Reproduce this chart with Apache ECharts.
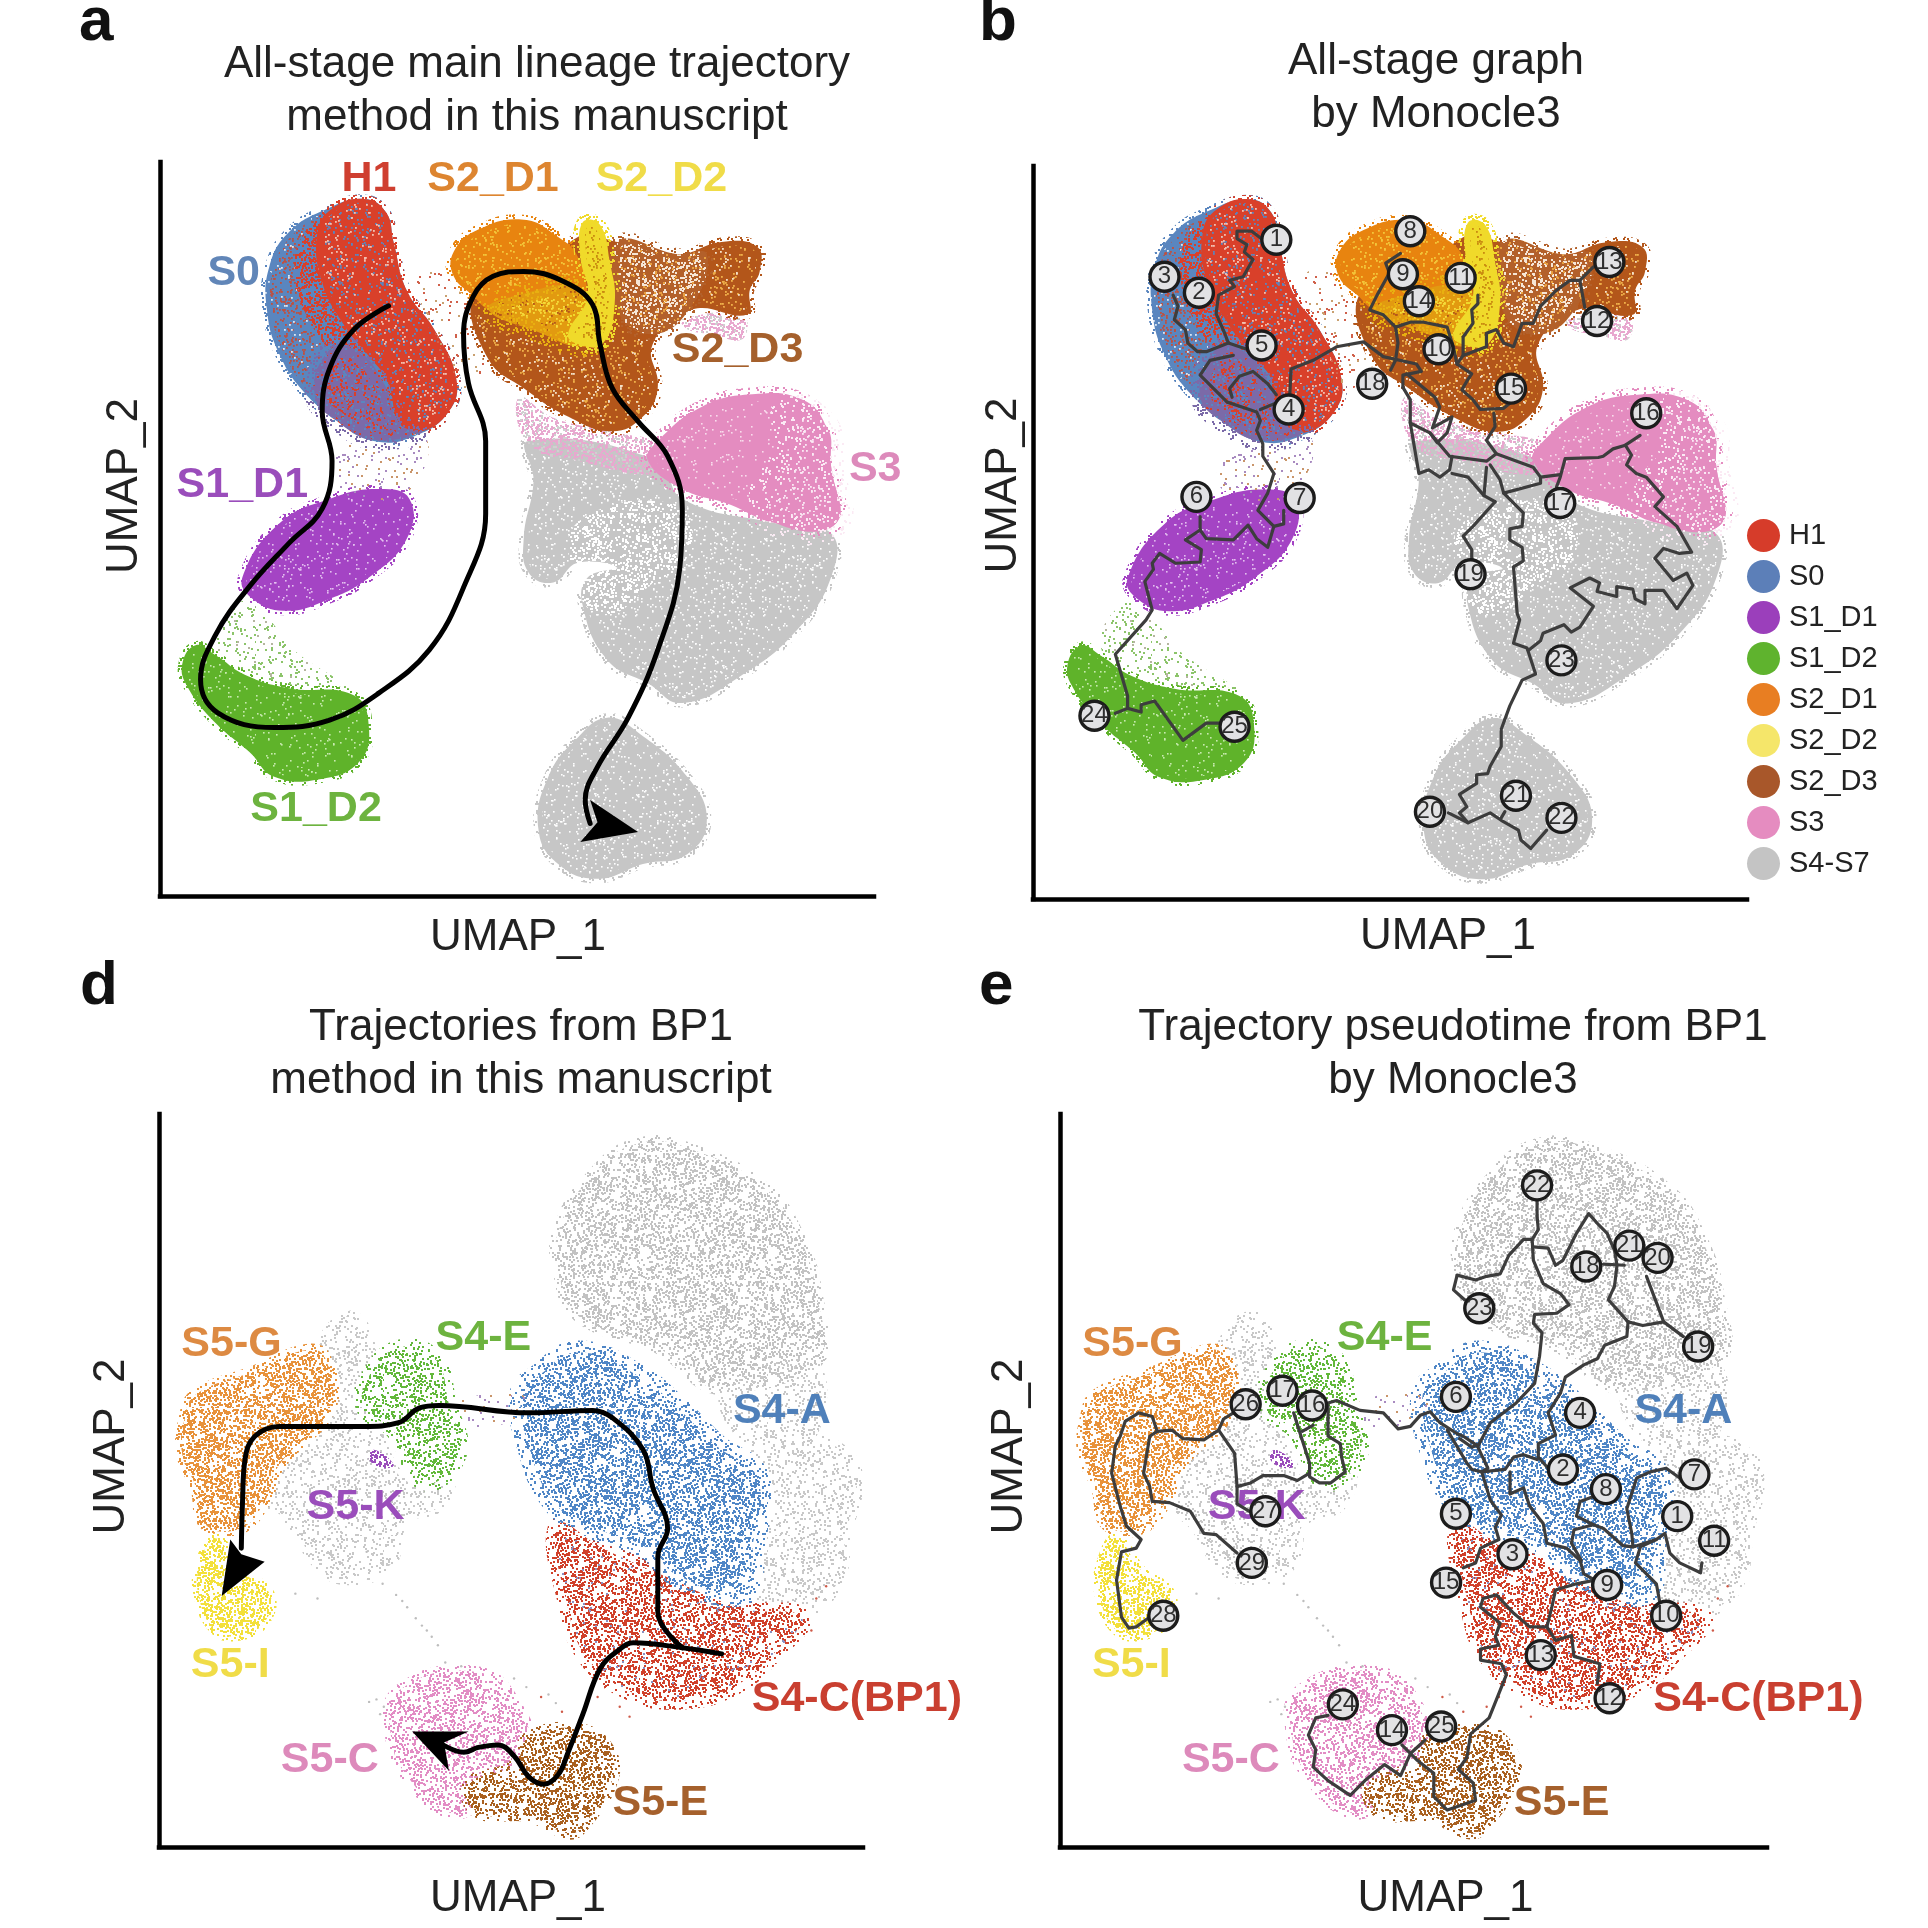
<!DOCTYPE html>
<html><head><meta charset="utf-8">
<script src="https://cdn.jsdelivr.net/npm/echarts@6/dist/echarts.min.js"></script>
<style>html,body{margin:0;background:#fff}#c{width:1928px;height:1928px}</style></head>
<body><div id="c"></div>
<script>
// ---- UMAP outlines (shared by panels a+b, d+e) ----
const grayLow=[[494,584],[519,596],[559,632],[575,667],[559,695],[523,703],[486,715],[454,703],[438,675],[446,632],[470,600]];
const grayMain=[[430,359],[535,375],[555,406],[632,426],[676,434],[676,470],[648,513],[604,549],[555,572],[527,556],[494,537],[474,493],[478,470],[502,462],[470,458],[450,474],[430,466],[426,438],[434,391]];
const grayPatch=[[478,432],[545,420],[550,448],[522,468],[492,490],[478,470]];
const pinkLeft=[[422,323],[450,340],[500,352],[535,362],[535,385],[470,375],[430,362]];
const pinkMain=[[535,359],[571,331],[612,321],[652,325],[672,347],[676,379],[680,426],[632,426],[592,410],[555,398],[527,375]];
const pinkPale=[[640,330],[672,347],[676,379],[680,426],[632,426],[620,400],[640,370]];
const pinkUnder=[[555,260],[604,256],[604,276],[579,272],[559,268]];
const greenSparse=[[195,490],[215,500],[240,530],[290,565],[205,550],[175,525]];
const s1d2=[[159,525],[175,533],[199,549],[235,560],[288,566],[300,592],[292,620],[260,634],[223,632],[203,612],[175,588],[153,560],[148,541]];
const s1d1=[[197,470],[227,426],[268,406],[308,398],[333,406],[331,438],[300,470],[264,489],[231,497],[205,487]];
const gapSparse=[[285,358],[345,355],[332,400],[290,405],[270,390]];
const s0=[[296,162],[314,173],[320,197],[331,237],[353,268],[371,308],[365,335],[337,355],[304,359],[276,343],[248,320],[227,288],[217,252],[219,217],[235,189],[264,171]];
const h1=[[296,162],[314,173],[320,197],[331,237],[353,268],[371,308],[365,335],[340,352],[325,345],[315,310],[300,290],[280,265],[262,230],[258,190],[270,170]];
const h1Blend=[[270,172],[258,190],[262,230],[280,265],[300,290],[315,310],[325,345],[300,345],[278,300],[252,262],[240,225],[246,192]];
const h1Mix=[[277,345],[256,322],[268,285],[290,285],[312,312],[325,345],[340,352],[304,358]];
const bridgeSparse=[[340,225],[375,220],[385,260],[395,300],[372,315],[350,265]];
const s2d3=[[385,241],[422,241],[470,193],[502,197],[551,207],[587,197],[616,201],[618,221],[610,236],[608,256],[563,252],[531,280],[535,316],[523,339],[498,351],[462,339],[426,316],[397,292]];
const s2d3Pale=[[502,197],[551,207],[575,207],[562,250],[531,272],[502,252]];
const s2d1=[[369,205],[389,187],[426,179],[454,193],[470,209],[478,241],[474,264],[462,276],[430,264],[397,252],[385,241],[369,225]];
const s2Gold=[[422,240],[470,233],[482,252],[490,276],[470,282],[442,272],[397,252]];
const s2d2=[[474,181],[488,183],[496,213],[500,248],[490,280],[470,280],[462,272],[478,241],[472,209]];

const grayTop=[[519,930],[571,938],[624,968],[648,1002],[664,1051],[664,1108],[587,1130],[535,1096],[470,1070],[454,1032],[454,1002],[478,960]];
const grayBridge=[[587,1130],[664,1108],[660,1175],[612,1179]];
const grayRight=[[612,1179],[652,1170],[689,1183],[697,1210],[689,1243],[680,1289],[652,1311],[612,1296]];
const s4a=[[438,1119],[470,1100],[519,1119],[551,1145],[583,1176],[616,1202],[612,1259],[604,1296],[551,1281],[527,1259],[478,1240],[450,1221],[430,1176],[424,1134]];
const s4c=[[454,1240],[490,1259],[539,1281],[604,1308],[652,1315],[632,1342],[596,1372],[551,1383],[511,1375],[478,1349],[462,1308]];
const s5g=[[159,1134],[207,1115],[248,1098],[264,1104],[268,1145],[227,1191],[215,1221],[195,1243],[167,1240],[159,1209],[148,1183],[150,1153]];
const s5i=[[175,1251],[195,1277],[219,1296],[215,1319],[195,1330],[175,1326],[161,1296],[163,1270]];
const s5k=[[260,1096],[284,1070],[300,1089],[300,1130],[308,1168],[333,1206],[365,1198],[357,1225],[329,1236],[316,1274],[280,1285],[256,1270],[240,1243],[219,1217],[260,1145]];
const s4e=[[324,1096],[353,1104],[365,1142],[373,1183],[345,1206],[320,1164],[296,1145],[300,1119]];
const s5kCore=[[304,1179],[320,1191],[312,1194],[300,1187]];
const s5c=[[324,1375],[389,1360],[422,1391],[430,1428],[389,1466],[365,1474],[333,1447],[318,1413]];
const s5e=[[430,1413],[470,1406],[494,1421],[498,1447],[474,1485],[462,1491],[430,1477],[389,1474],[381,1451],[418,1436]];
const linkSparse=[[368,1142],[424,1134],[424,1152],[375,1160]];
const strayGray=[[322,1297],[327,1302],[331,1307],[338,1316],[343,1322],[347,1326],[351,1331],[356,1338],[298,1262],[311,1288],[306,1382],[312,1388],[309,1394],[300,1384],[362,1352],[375,1355],[418,1365],[428,1372],[446,1378],[452,1385],[258,1300],[240,1296]];
const strayRed=[[440,1380],[457,1392],[476,1388],[486,1380],[504,1388],[512,1396],[664,1300],[672,1290],[660,1326]];

// ---- main trajectories (a, d) ----
const trajA=[[316,249],[288,268],[268,300],[262,335],[270,375],[262,414],[235,442],[203,477],[175,517],[163,553],[177,580],[223,592],[268,586],[308,564],[349,529],[377,478],[395,418],[395,359],[381,312],[377,272],[385,241],[401,225],[426,221],[458,229],[482,248],[488,280],[498,316],[519,343],[543,371],[555,414],[553,462],[535,529],[511,584],[486,624],[476,651],[480,670]];
const arrowA=[[519,677],[472,685],[486,669],[480,651]];
const trajD1=[[587,1345],[555,1340],[515,1336],[503,1342],[488,1357],[474,1394],[462,1425],[454,1443],[442,1451],[430,1445],[418,1428],[405,1419],[389,1421],[377,1425],[357,1417]];
const arrowD1=[[335,1408],[381,1408],[361,1417],[365,1440]];
const trajD2=[[555,1340],[535,1311],[535,1266],[543,1243],[531,1210],[523,1179],[498,1153],[482,1147],[430,1149],[357,1143],[341,1145],[324,1157],[296,1160],[227,1160],[207,1168],[199,1187],[197,1221],[196,1259]];
const arrowD2=[[180,1298],[215,1270],[196,1264],[187,1252]];

// ---- Monocle3 graph, panel b ----
const bp1=[[307,195],[298,188],[286,188],[286,194],[294,199],[292,205],[299,211],[291,225],[280,228],[284,233],[271,240],[269,255],[276,271],[279,279],[261,286],[254,286],[246,279],[244,268],[235,260],[238,249],[234,240]];
const bp2=[[294,284],[279,279]];
const bp3=[[283,289],[264,293],[256,305],[267,316],[278,327],[290,331],[302,335],[305,342],[302,350],[307,361],[307,371],[316,385],[311,401],[303,415],[316,428],[311,445],[302,438],[295,427],[283,439],[261,438],[256,431],[256,420]];
const bp4=[[256,431],[244,439],[257,447],[256,457],[236,458],[223,450],[217,458],[218,463],[211,473],[217,496],[212,504],[187,532],[197,566],[197,576],[187,580]];
const bp5=[[316,428],[324,426],[324,415]];
const bp6=[[282,323],[280,316],[288,306],[299,302],[311,312],[318,321]];
const bp7=[[305,333],[317,328]];
const bp8=[[329,320],[330,300],[348,293],[367,282],[389,278],[405,290],[432,296],[436,302],[421,305],[421,315]];
const bp9=[[419,206],[407,214],[410,222],[400,240],[394,252],[405,256],[415,266],[417,279],[415,293],[411,301]];
const bp10=[[415,266],[427,262],[438,262],[457,266],[462,282],[465,296]];
const bp11=[[482,240],[482,247],[477,252],[478,263],[470,274],[470,289],[489,282],[489,271],[497,268],[503,279],[511,282],[518,263],[527,263],[533,249],[546,236],[557,228],[565,228],[576,217]];
const bp12=[[565,228],[569,250]];
const bp13=[[470,289],[465,296],[477,304],[473,310],[469,317],[478,325],[484,333],[503,332],[508,328]];
const bp14=[[495,336],[496,347],[489,358],[497,369],[527,380],[533,388],[549,386]];
const bp15=[[424,304],[447,323],[451,331],[445,348],[461,339],[457,352],[449,360],[443,352]];
const bp16=[[421,315],[427,325],[427,344],[443,352],[459,371],[489,375],[497,369]];
const bp17=[[427,344],[434,385],[442,382],[451,388],[459,382],[461,371]];
const bp18=[[461,385],[474,388],[487,403],[496,408]];
const bp19=[[489,380],[487,403]];
const bp20=[[492,378],[500,390],[503,401],[533,393],[533,388]];
const bp21=[[503,401],[519,417],[518,428],[508,430],[508,439],[518,445],[519,456],[511,461],[514,499],[516,504],[511,523],[522,527],[529,548],[518,553],[508,574],[501,593],[501,607],[492,623],[490,629],[481,630],[481,637],[467,646],[473,656],[467,661],[474,669]];
const bp22=[[496,408],[478,428],[470,436],[477,447],[477,457]];
const bp23=[[523,529],[533,521],[535,515],[552,508],[558,514],[565,510],[576,493],[557,478],[573,470],[581,474],[579,481],[595,485],[595,477],[608,479],[610,487],[618,491],[618,480],[633,480],[644,495],[657,476],[652,466],[641,472],[626,454],[633,446],[646,450],[656,449],[644,428],[626,412],[633,404],[619,388],[611,385],[603,378],[607,370],[602,362],[614,354]];
const bp24=[[602,362],[592,365],[584,371],[580,372],[553,373],[549,388],[546,396]];
const bp25=[[458,661],[474,669],[492,661],[501,667],[515,675],[517,683],[525,690],[538,675]];
const bp26=[[501,665],[504,660]];
const bp27=[[197,576],[208,579],[208,573],[219,570],[242,602],[261,588],[272,588]];
const graphB=[bp1,bp2,bp3,bp4,bp5,bp6,bp7,bp8,bp9,bp10,bp11,bp12,bp13,bp14,bp15,bp16,bp17,bp18,bp19,bp20,bp21,bp22,bp23,bp24,bp25,bp26,bp27];
const nodesB=[[318,195,1],[255,238,2],[227,225,3],[328,333,4],[306,281,5],[253,404,6],[337,405,7],[427,188,8],[421,223,9],[450,284,10],[468,226,11],[579,261,12],[589,213,13],[434,245,14],[509,316,15],[619,336,16],[549,409,17],[396,312,18],[476,467,19],[443,660,20],[513,647,21],[550,665,22],[550,537,23],[170,582,24],[284,591,25]];

// ---- Monocle3 graph, panel e ----
const ep1=[[517,977],[517,989],[518,1000],[513,1008],[506,1008],[494,1021],[487,1036],[476,1038],[467,1041],[452,1037],[449,1049],[458,1057]];
const ep2=[[513,1008],[514,1025],[522,1044],[536,1052],[543,1061],[533,1068],[515,1069],[514,1076],[521,1084],[519,1103],[515,1125],[500,1141],[479,1157],[469,1176],[457,1168],[452,1166],[438,1157],[430,1148],[422,1151],[414,1160],[404,1162],[392,1149],[373,1147],[354,1139],[347,1141]];
const ep3=[[514,1014],[526,1015],[532,1029],[538,1025],[549,1003],[559,987],[567,996],[574,1003],[580,1017],[582,1029],[580,1046],[575,1057],[591,1075],[590,1087],[572,1094],[566,1105],[555,1110],[540,1120],[536,1133],[526,1149],[532,1167],[518,1174],[518,1185],[526,1194]];
const ep4=[[571,1028],[588,1029]];
const ep5=[[606,1038],[620,1075],[636,1087]];
const ep6=[[591,1075],[603,1078],[620,1075]];
const ep7=[[444,1163],[460,1190],[464,1195],[472,1197],[479,1220],[488,1232],[483,1242],[486,1252],[471,1259],[467,1271],[457,1275]];
const ep8=[[454,1170],[464,1177],[468,1175],[477,1194],[472,1197]];
const ep9=[[472,1197],[491,1195],[498,1185],[506,1183],[517,1187]];
const ep10=[[495,1197],[495,1215],[506,1210],[511,1225],[522,1239],[525,1255],[541,1259],[552,1269],[555,1280],[564,1285]];
const ep11=[[563,1217],[552,1221],[549,1233],[563,1240],[571,1243],[587,1257],[595,1258],[594,1247],[590,1227],[598,1202],[609,1197],[622,1194],[633,1202]];
const ep12=[[563,1240],[547,1244],[545,1255],[553,1269]];
const ep13=[[595,1258],[614,1252],[621,1247],[625,1263],[633,1271],[650,1279],[651,1271]];
const ep14=[[614,1252],[601,1258],[597,1271],[614,1288],[617,1304]];
const ep15=[[564,1285],[549,1288],[532,1293],[529,1307],[525,1323],[511,1323],[498,1312],[484,1297],[473,1300],[471,1307],[487,1320],[483,1331],[486,1338],[471,1341],[471,1350],[488,1353],[492,1362],[478,1397],[463,1410],[460,1429],[453,1439],[465,1450],[467,1464],[444,1472],[433,1461],[433,1442],[419,1431],[407,1419]];
const ep16=[[525,1323],[532,1334],[545,1330],[547,1347],[568,1353],[566,1369]];
const ep17=[[426,1415],[414,1426],[406,1444],[393,1435],[377,1448],[365,1460],[347,1448],[335,1437],[337,1423],[331,1411],[337,1397],[347,1395]];
const ep18=[[347,1143],[347,1168],[357,1174],[358,1185],[361,1197],[349,1206],[340,1206],[332,1201],[332,1190],[326,1171],[319,1149]];
const ep19=[[326,1164],[335,1159]];
const ep20=[[332,1198],[322,1204],[311,1200],[294,1200],[284,1206],[273,1209],[271,1182],[258,1163],[262,1154],[270,1149]];
const ep21=[[273,1209],[273,1223],[286,1231]];
const ep22=[[258,1163],[246,1171],[229,1170],[220,1163],[208,1164],[202,1168],[197,1198],[202,1209],[204,1221],[218,1222],[235,1229],[246,1247],[256,1248],[273,1263]];
const ep23=[[208,1164],[204,1152],[193,1149],[182,1156],[178,1168],[174,1176],[171,1198],[178,1225],[183,1241],[195,1252],[191,1259],[179,1262],[175,1285],[179,1315],[185,1324],[191,1323],[202,1315]];
const graphE=[ep1,ep2,ep3,ep4,ep5,ep6,ep7,ep8,ep9,ep10,ep11,ep12,ep13,ep14,ep15,ep16,ep17,ep18,ep19,ep20,ep21,ep22,ep23];
const nodesE=[[631,1233,1],[538,1195,2],[497,1264,3],[552,1149,4],[451,1231,5],[451,1136,6],[645,1199,7],[573,1211,8],[574,1289,9],[622,1314,10],[661,1253,11],[576,1381,12],[520,1346,13],[399,1407,14],[443,1287,15],[334,1143,16],[310,1131,17],[557,1030,18],[648,1095,19],[615,1023,20],[592,1013,21],[517,964,22],[470,1064,23],[359,1386,24],[439,1404,25],[280,1142,26],[296,1229,27],[213,1314,28],[285,1271,29]];

// ---- text ----
const legendNames=['H1','S0','S1_D1','S1_D2','S2_D1','S2_D2','S2_D3','S3','S4-S7'];
const legendColors=['#d63c2a','#5c7fb8','#9b3fbb','#5fb32e','#e87e22','#f5e66a','#a8572a','#e58cc0','#c4c4c4'];
const labelsA=[['H1',300,146,'#cf3f30'],['S2_D1',401,146,'#dd8530'],['S2_D2',538,146,'#f0dc48'],['S0',190,222,'#6186b8'],['S2_D3',600,285,'#a5602c'],['S3',712,382,'#dd8abb'],['S1_D1',197,395,'#9a4dbb'],['S1_D2',257,658,'#6db33f']];
const labelsD=[['S5-G',188,1093,'#dd8a42'],['S4-E',393,1088,'#6db33f'],['S4-A',636,1148,'#4f80ba'],['S5-K',289,1226,'#9a4dbb'],['S5-I',187,1354,'#f0dc48'],['S4-C(BP1)',697,1382,'#c93f30'],['S5-C',268,1431,'#dd8abb'],['S5-E',537,1466,'#a5602c']];
const titleTexts=['All-stage main lineage trajectory\nmethod in this manuscript','All-stage graph\nby Monocle3','Trajectories from BP1\nmethod in this manuscript','Trajectory pseudotime from BP1\nby Monocle3'];
const panelLetters=['a','b','d','e'];

// ---- speckle textures (styling only) ----
function hash(i){const v=Math.sin(i*12.9898+4.1)*43758.5453;return v-Math.floor(v);}
function tile(bg,dots,size){
  const c=document.createElement('canvas');c.width=c.height=128;const g=c.getContext('2d');
  if(bg){g.fillStyle=bg;g.fillRect(0,0,128,128);}
  let k=1;
  dots.forEach(([col,n])=>{g.fillStyle=col;for(let j=0;j<n;j++,k++){g.fillRect(Math.floor(hash(k)*128),Math.floor(hash(k+5000)*128),size,size);}});
  return {image:c,repeat:'repeat'};
}
const sparse=(col,n)=>tile(null,[[col,n||1100]],2);
const T={
 gray:tile('#c6c6c6',[['#ffffff',480]],1.6),
 whiteSpeck:tile(null,[['#ffffff',1500]],2),
 pink:tile('#e48cc0',[['#f8dcec',240]],1.6),
 pinkPale:tile('#e48cc0',[['#fbeaf4',800]],1.8),
 pinkSoft:tile(null,[['#e8a8cf',2300],['#d0d0d0',500]],2),
 greenSoft:tile(null,[['#8cc46a',600],['#b5b5a0',60]],2),
 green:tile('#5fb32a',[['#c8eab0',300]],1.6),
 purple:tile('#a444c4',[['#e3c0ef',340]],1.6),
 gap:tile(null,[['#a88ac0',180],['#c9956a',130]],2),
 s0:tile('#5a86bf',[['#c0503f',1100],['#dbe6f2',160]],1.8),
 h1:tile('#d9402a',[['#5a86bf',520],['#f2c0b0',320]],1.8),
 h1Blend:tile(null,[['#d9402a',2400]],2),
 mix:tile('#7b6aa8',[['#d9402a',1300],['#5a86bf',500]],2),
 bridge:tile(null,[['#d0604a',150],['#c9a070',110]],2),
 s2d3:tile('#b3561a',[['#efb04a',500],['#f4e2c8',220]],1.8),
 s2Pale:tile('#b3602a',[['#f6e6d6',1500],['#e8a040',300]],2),
 s2d1:tile('#e8840f',[['#f3c63a',650]],1.8),
 gold:tile('#e29a10',[['#f5dc3a',1200],['#b3561a',300]],1.8),
 s2d2:tile('#f0da2a',[['#c98a10',800]],1.8),
 dGray:tile(null,[['#c2c2c2',1800]],2),
 dGrayLow:tile(null,[['#c8c8c8',900]],2),
 dBlue:tile(null,[['#4f86c6',2300]],2),
 dRed:tile(null,[['#d0402a',2200],['#8a8fc0',100]],2),
 dOrange:tile(null,[['#e8923a',2700]],2),
 dYellow:tile(null,[['#f3e03a',2600]],2),
 dGreen:tile(null,[['#62b83a',1700]],2),
 dPurple:tile(null,[['#9a4dbb',2600]],2),
 dPink:tile(null,[['#e28cc4',1800]],2),
 dBrown:tile(null,[['#a9601f',2300]],2)
};
// name, outline, fill texture, fringe texture, fringe width
const cellsAB=[
 ['S4-S7',grayLow,T.gray,sparse('#c6c6c6'),9],['S4-S7',grayMain,T.gray,sparse('#c6c6c6'),9],['S4-S7',grayPatch,T.whiteSpeck,T.whiteSpeck,26],
 ['S3',pinkLeft,T.pinkSoft],['S3',pinkMain,T.pink,sparse('#e48cc0',1000),14],['S3',pinkPale,T.pinkPale,sparse('#fbeaf4',600),26],['S3',pinkUnder,T.pinkSoft],
 ['S1_D2',greenSparse,T.greenSoft],['S1_D2',s1d2,T.green,sparse('#5fb32a'),8],['S1_D1',s1d1,T.purple,sparse('#a444c4'),9],['S0',gapSparse,T.gap],
 ['S0',s0,T.s0,sparse('#5a86bf'),9],['H1',h1,T.h1,sparse('#d9402a',1000),8],['H1',h1Blend,T.h1Blend],['H1',h1Mix,T.mix,sparse('#7b6aa8',1000),20],['H1',bridgeSparse,T.bridge],
 ['S2_D3',s2d3,T.s2d3,sparse('#b3561a'),9],['S2_D3',s2d3Pale,T.s2Pale,sparse('#b3602a',900),12],['S2_D1',s2d1,T.s2d1,sparse('#e8840f',1300),10],['S2_D1',s2Gold,T.gold,sparse('#e8b010',1200),20],['S2_D2',s2d2,T.s2d2,sparse('#f0da2a',1500),12]];
const cellsDE=[
 ['top',grayTop,T.dGray,sparse('#c2c2c2',700),12],['bridge',grayBridge,T.dGrayLow],['right',grayRight,T.dGrayLow,sparse('#c8c8c8',500),12],['S5-K',s5k,T.dGrayLow,sparse('#c8c8c8',500),10],
 ['S4-C',s4c,T.dRed,sparse('#d0402a',900),18],['S4-A',s4a,T.dBlue,sparse('#4f86c6',900),24],['link',linkSparse,T.gap],
 ['S5-G',s5g,T.dOrange,sparse('#e8923a',1000),12],['S5-I',s5i,T.dYellow,sparse('#f3e03a',1000),10],['S4-E',s4e,T.dGreen,sparse('#62b83a',600),16],['core',s5kCore,T.dPurple],
 ['S5-C',s5c,T.dPink,sparse('#e28cc4',700),12],['S5-E',s5e,T.dBrown,sparse('#a9601f',900),12]];

const FONT='"Liberation Sans",Arial,sans-serif';
const colorOf=Object.fromEntries(legendNames.map((n,i)=>[n,legendColors[i]]));

function polygon(name,pts,fill,gi,opt){
  opt=opt||{};
  return {type:'custom',name,xAxisIndex:gi,yAxisIndex:gi,z:opt.z||1,silent:true,clip:false,animation:false,
    itemStyle:{color:colorOf[name]||'#999'},data:pts,encode:{x:0,y:1},
    renderItem(params,api){
      if(params.dataIndex!==0)return;
      const style={fill};
      if(opt.fringe){style.stroke=opt.fringe;style.lineWidth=opt.width;}
      return {type:'polygon',shape:{points:pts.map(p=>api.coord(p)),smooth:opt.smooth==null?0.45:opt.smooth},style};
    }};
}
function path(pts,gi,color,width,smooth,z){
  return {type:'line',xAxisIndex:gi,yAxisIndex:gi,data:pts,showSymbol:false,symbol:'none',smooth,z,silent:true,clip:false,animation:false,
    lineStyle:{color,width,cap:'round',join:'round'}};
}
function nodes(list,gi){
  return {type:'scatter',xAxisIndex:gi,yAxisIndex:gi,z:5,silent:true,clip:false,animation:false,symbolSize:29,
    itemStyle:{color:'#e2e2e4',borderColor:'#1c1c1c',borderWidth:3.4,opacity:1},
    label:{show:true,position:'inside',formatter:p=>p.value[2],fontFamily:FONT,fontSize:24,color:'#2e2e2e'},
    data:list};
}
function dots(list,gi,color){
  return {type:'scatter',xAxisIndex:gi,yAxisIndex:gi,z:1,silent:true,clip:false,animation:false,symbolSize:2.4,itemStyle:{color,opacity:1},data:list};
}
function labels(list,gi){
  return {type:'scatter',xAxisIndex:gi,yAxisIndex:gi,z:2,silent:true,clip:false,animation:false,symbolSize:0,itemStyle:{opacity:1},
    data:list.map(l=>({value:[l[1],l[2]],label:{show:true,position:'inside',formatter:l[0],color:l[3],opacity:1,fontFamily:FONT,fontWeight:'bold',fontSize:43}}))};
}
const grids=[{left:160,top:162,width:714,height:734},{left:1033,top:166,width:714,height:733},{left:159,top:1114,width:704,height:733},{left:1060,top:1114,width:707,height:733}];
const xRange=[[130,711],[120,701],[129,702],[129,704]];
const yRange=[[132,729],[135,731],[906,1502],[906,1502]];
const xNameShift=[2,116,14,64];
const yNameShift=[86,94,68,68];
const xNameGap=[20,16,30,30];
const yNameGap=[13,7,25,28];
const axisLine={onZero:false,lineStyle:{color:'#000',width:4.5,cap:'square'}};
const nameStyle=p=>({fontFamily:FONT,fontSize:44,color:'#222',padding:p});
const titleStyle={fontFamily:FONT,fontWeight:'normal',fontSize:44,lineHeight:53,color:'#222'};
const letterStyle={fontFamily:FONT,fontWeight:'bold',fontSize:62,color:'#111'};

const series=[];
[0,1].forEach(g=>cellsAB.forEach(c=>series.push(polygon(c[0],c[1],c[2],g,{fringe:c[3],width:c[4]}))));
[2,3].forEach(g=>cellsDE.forEach(c=>series.push(polygon(c[0],c[1],c[2],g,{fringe:c[3],width:c[4]}))));
[2,3].forEach(g=>{series.push(dots(strayGray,g,'#bdbdbd'));series.push(dots(strayRed,g,'#cf5a48'));});
series.push(path(trajA,0,'#000',5,0.4,3));
series.push(polygon('arrow',arrowA,'#000',0,{z:4,smooth:0}));
series.push(path(trajD1,2,'#000',5,0.4,3));
series.push(polygon('arrow',arrowD1,'#000',2,{z:4,smooth:0}));
series.push(path(trajD2,2,'#000',5,0.4,3));
series.push(polygon('arrow',arrowD2,'#000',2,{z:4,smooth:0}));
graphB.forEach(p=>series.push(path(p,1,'#3d3d3d',3.2,false,3)));
graphE.forEach(p=>series.push(path(p,3,'#3d3d3d',3.2,false,3)));
series.push(nodes(nodesB,1));
series.push(nodes(nodesE,3));
series.push(labels(labelsA,0));
series.push(labels(labelsD,2));
series.push(labels(labelsD,3));

const option={
  backgroundColor:'#fff',animation:false,
  textStyle:{fontFamily:FONT},
  title:[
    {text:titleTexts[0],left:532,top:33,textAlign:'center',textStyle:titleStyle},
    {text:titleTexts[1],left:1431,top:30,textAlign:'center',textStyle:titleStyle},
    {text:titleTexts[2],left:516,top:996,textAlign:'center',textStyle:titleStyle},
    {text:titleTexts[3],left:1448,top:996,textAlign:'center',textStyle:titleStyle},
    {text:panelLetters[0],left:74,top:-13,textStyle:letterStyle},
    {text:panelLetters[1],left:974,top:-13,textStyle:letterStyle},
    {text:panelLetters[2],left:75,top:951,textStyle:letterStyle},
    {text:panelLetters[3],left:974,top:951,textStyle:letterStyle}
  ],
  legend:{data:legendNames,orient:'vertical',left:1742,top:514,itemWidth:33,itemHeight:33,itemGap:8,icon:'circle',selectedMode:false,
    textStyle:{fontFamily:FONT,fontSize:29,color:'#222',padding:[0,0,0,4]}},
  grid:grids,
  xAxis:grids.map((g,i)=>({gridIndex:i,type:'value',min:xRange[i][0],max:xRange[i][1],position:'bottom',name:'UMAP_1',nameLocation:'middle',nameGap:xNameGap[i],nameTextStyle:nameStyle([0,0,0,xNameShift[i]]),axisLine,axisTick:{show:false},axisLabel:{show:false},splitLine:{show:false}})),
  yAxis:grids.map((g,i)=>({gridIndex:i,type:'value',inverse:true,min:yRange[i][0],max:yRange[i][1],position:'left',name:'UMAP_2',nameLocation:'middle',nameGap:yNameGap[i],nameTextStyle:nameStyle([0,0,0,yNameShift[i]]),axisLine,axisTick:{show:false},axisLabel:{show:false},splitLine:{show:false}})),
  series
};
const chart=echarts.init(document.getElementById('c'),null,{renderer:'canvas'});
chart.setOption(option);
</script></body></html>
